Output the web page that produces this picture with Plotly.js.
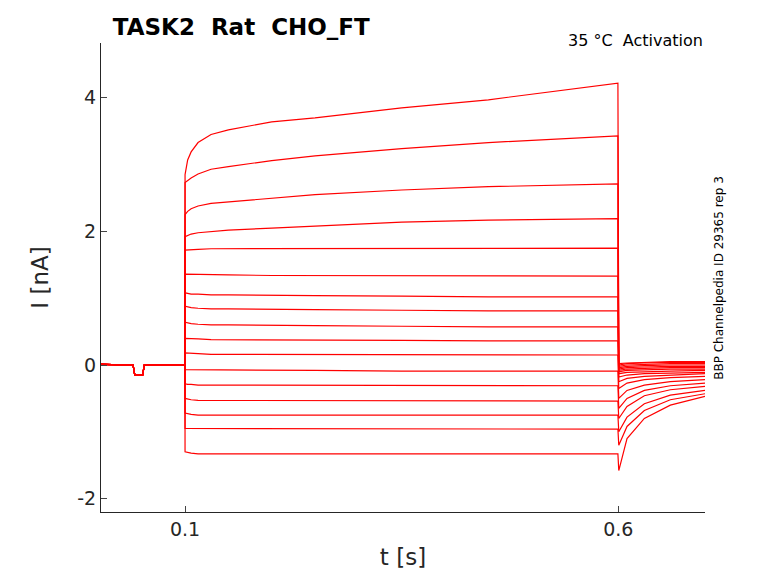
<!DOCTYPE html>
<html>
<head>
<script src="https://cdn.plot.ly/plotly-3.0.1.min.js"></script>
<style>body{margin:0}</style>
</head>
<body>
<div id="chart" style="width:778px;height:583px"></div>
<script>
// time points (s) for each segment
const preTimes = [0.003, 0.04, 0.042, 0.051, 0.053, 0.0999];
const preValues = [0.01, 0.0, -0.15, -0.15, 0.0, 0.0];
const stepTimes = [0.1, 0.103, 0.107, 0.115, 0.13, 0.15, 0.2, 0.25, 0.35, 0.45, 0.5995];
const tailTimes = [0.6005, 0.61, 0.63, 0.66, 0.7];

// step currents (nA) per trace, top to bottom
const stepValues = [
  [2.85, 3.07, 3.19, 3.33, 3.45, 3.52, 3.64, 3.70, 3.85, 3.97, 4.22],
  [2.73, 2.76, 2.80, 2.86, 2.93, 2.97, 3.06, 3.13, 3.24, 3.33, 3.43],
  [2.25, 2.30, 2.34, 2.38, 2.42, 2.44, 2.50, 2.55, 2.62, 2.67, 2.71],
  [1.92, 1.94, 1.96, 1.98, 2.00, 2.02, 2.05, 2.08, 2.14, 2.17, 2.19],
  [1.72, 1.72, 1.73, 1.73, 1.74, 1.74, 1.74, 1.74, 1.75, 1.75, 1.75],
  [1.36, 1.36, 1.35, 1.35, 1.35, 1.35, 1.34, 1.34, 1.34, 1.33, 1.33],
  [1.08, 1.07, 1.06, 1.06, 1.05, 1.05, 1.04, 1.04, 1.03, 1.02, 1.02],
  [0.88, 0.87, 0.86, 0.85, 0.84, 0.84, 0.83, 0.83, 0.82, 0.81, 0.81],
  [0.64, 0.63, 0.62, 0.61, 0.60, 0.60, 0.59, 0.59, 0.58, 0.57, 0.57],
  [0.40, 0.40, 0.39, 0.39, 0.38, 0.38, 0.37, 0.37, 0.37, 0.36, 0.36],
  [0.18, 0.18, 0.17, 0.17, 0.16, 0.16, 0.16, 0.16, 0.15, 0.15, 0.15],
  [-0.07, -0.07, -0.07, -0.08, -0.08, -0.08, -0.08, -0.08, -0.09, -0.09, -0.09],
  [-0.28, -0.29, -0.29, -0.30, -0.30, -0.30, -0.30, -0.30, -0.31, -0.31, -0.31],
  [-0.50, -0.51, -0.52, -0.53, -0.53, -0.53, -0.53, -0.53, -0.54, -0.54, -0.54],
  [-0.72, -0.73, -0.74, -0.75, -0.75, -0.75, -0.75, -0.75, -0.75, -0.75, -0.75],
  [-0.95, -0.95, -0.96, -0.96, -0.96, -0.96, -0.96, -0.96, -0.96, -0.96, -0.96],
  [-1.30, -1.31, -1.32, -1.33, -1.33, -1.33, -1.32, -1.32, -1.33, -1.33, -1.33]
];

// tail currents (nA) after the step
const tailValues = [
  [0.02, 0.03, 0.04, 0.05, 0.05],
  [0.0, 0.02, 0.03, 0.04, 0.04],
  [-0.02, 0.0, 0.01, 0.02, 0.02],
  [-0.04, -0.02, -0.01, 0.0, 0.0],
  [-0.06, -0.04, -0.03, -0.02, -0.02],
  [-0.08, -0.06, -0.05, -0.04, -0.04],
  [-0.1, -0.08, -0.07, -0.06, -0.06],
  [-0.13, -0.11, -0.1, -0.09, -0.08],
  [-0.18, -0.15, -0.13, -0.12, -0.11],
  [-0.25, -0.2, -0.17, -0.15, -0.13],
  [-0.35, -0.27, -0.22, -0.19, -0.17],
  [-0.5, -0.38, -0.3, -0.25, -0.22],
  [-0.65, -0.5, -0.38, -0.31, -0.27],
  [-0.8, -0.62, -0.46, -0.37, -0.32],
  [-1.0, -0.78, -0.58, -0.45, -0.38],
  [-1.2, -0.92, -0.68, -0.52, -0.43],
  [-1.58, -1.1, -0.8, -0.6, -0.47]
];

const traces = stepValues.map((sv, i) => ({
  type: 'scatter',
  mode: 'lines',
  x: preTimes.concat(stepTimes, tailTimes),
  y: preValues.concat(sv, tailValues[i]),
  line: {color: 'red', width: 1.2},
  hoverinfo: 'skip'
}));

const layout = {
  width: 778,
  height: 583,
  showlegend: false,
  paper_bgcolor: 'white',
  plot_bgcolor: 'white',
  margin: {l: 101, r: 73, t: 43, b: 71},
  font: {family: 'DejaVu Sans', color: '#262626'},
  title: {text: '<b>TASK2  Rat  CHO_FT</b>', x: 0.145, xanchor: 'left', y: 0.968, font: {size: 23, color: 'black'}},
  xaxis: {
    range: [0.003, 0.7], tickvals: [0.1, 0.6], ticktext: ['0.1', '0.6'],
    ticks: 'inside', ticklen: 6, showgrid: false, zeroline: false,
    showline: true, linecolor: '#262626', tickfont: {size: 19},
    title: {text: 't [s]', font: {size: 23}, standoff: 10}
  },
  yaxis: {
    range: [-2.2, 4.82], tickvals: [-2, 0, 2, 4], ticktext: ['-2', '0', '2', '4'],
    ticks: 'inside', ticklen: 6, showgrid: false, zeroline: false,
    showline: true, linecolor: '#262626', tickfont: {size: 19},
    title: {text: 'I [nA]', font: {size: 23}, standoff: 22}
  },
  annotations: [
    {text: '35 °C  Activation', xref: 'paper', yref: 'paper', x: 1, y: 1.005,
     xanchor: 'right', yanchor: 'middle', showarrow: false, font: {size: 16, color: 'black'}},
    {text: 'BBP Channelpedia ID 29365 rep 3', xref: 'paper', yref: 'paper', x: 1.022, y: 0.5,
     xanchor: 'center', yanchor: 'middle', textangle: -90, showarrow: false, font: {size: 12, color: 'black'}}
  ]
};

Plotly.newPlot('chart', traces, layout, {displayModeBar: false});
</script>
</body>
</html>
